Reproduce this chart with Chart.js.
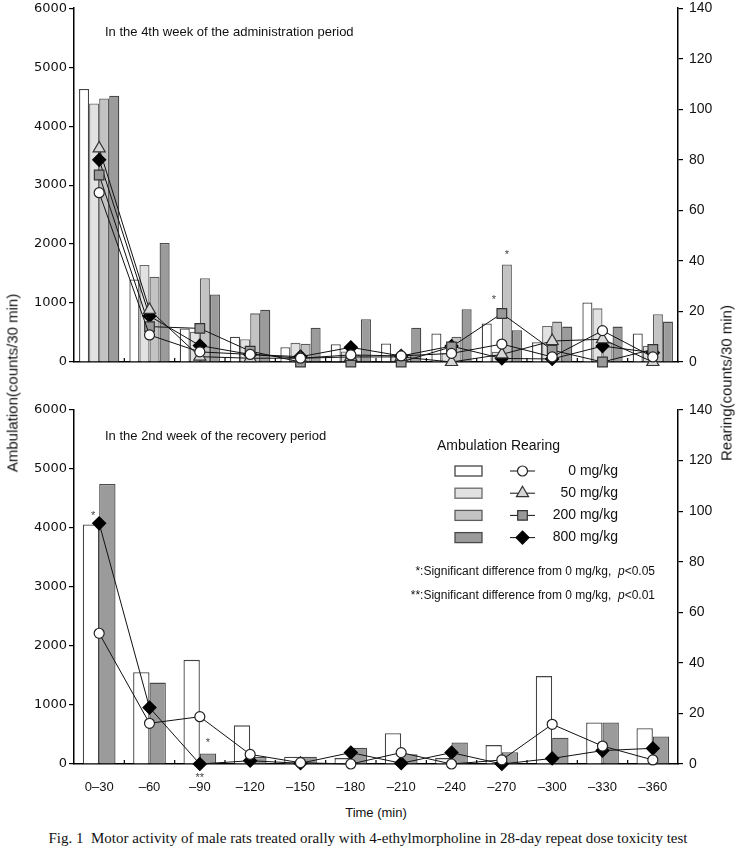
<!DOCTYPE html>
<html>
<head>
<meta charset="utf-8">
<script src="https://cdn.jsdelivr.net/npm/chart.js@4.4.1/dist/chart.umd.min.js"></script>
<style>
  body { margin: 0; background: #fff; }
  #wrap { position: relative; width: 737px; height: 848px; overflow: hidden; }
  .box { position: absolute; left: 0; width: 737px; }
  .ytitle { position: absolute; font-family: "Liberation Sans Narrow", "Liberation Sans", sans-serif; font-size: 15px; color: #111;
            white-space: nowrap; transform: translate(-50%, -50%) rotate(-90deg); }
  #xtitle { position: absolute; left: 376px; top: 812px; transform: translate(-50%, -50%); font: 13px "Liberation Sans", sans-serif; color: #111; }
  #caption { position: absolute; left: 368px; top: 838px; transform: translate(-50%, -50%); white-space: nowrap;
             font: 15px "Liberation Serif", serif; color: #111; }
</style>
</head>
<body>
<div id="wrap">
  <div class="box" style="top:0;height:380px"><canvas id="adm"></canvas></div>
  <div class="box" style="top:400px;height:400px"><canvas id="rec"></canvas></div>
  <div class="ytitle" style="left:12px;top:383px">Ambulation(counts/30 min)</div>
  <div class="ytitle" style="left:726px;top:383px">Rearing(counts/30 min)</div>
  <div id="xtitle">Time (min)</div>
  <div id="caption">Fig. 1&nbsp;&nbsp;Motor activity of male rats treated orally with 4-ethylmorpholine in 28-day repeat dose toxicity test</div>
</div>
<script>
const times = ['0–30', '–60', '–90', '–120', '–150', '–180', '–210', '–240', '–270', '–300', '–330', '–360'];
const doses = ['0 mg/kg', '50 mg/kg', '200 mg/kg', '800 mg/kg'];

// 4th week of the administration period
const ambAdm0   = [4630, 1400, 570, 430, 250, 300, 315, 485, 655, 335, 1010, 485];
const ambAdm50  = [4385, 1645, 515, 385, 325, 180, 120, 150, 175, 610, 910, 275];
const ambAdm200 = [4470, 1445, 1420, 825, 310, 120, 130, 430, 1655, 685, 330, 810];
const ambAdm800 = [4515, 2020, 1145, 885, 580, 725, 580, 895, 540, 600, 600, 685];
const rearAdm0   = [67, 10.7, 4, 3, 1.5, 2.8, 2.4, 3.4, 7.1, 2, 12.4, 2];
const rearAdm50  = [84.5, 20.6, 2.1, 1.5, 1.5, 2, 2, 0, 3, 8.3, 9, 0];
const rearAdm200 = [74, 14, 13.3, 4.3, 0, 0, 0, 6, 19.2, 4.7, 0, 5];
const rearAdm800 = [80, 18.2, 6.5, 3, 2.1, 5.8, 2.4, 6.3, 1.4, 1.2, 6.3, 3.7];

// 2nd week of the recovery period
const ambRec0   = [4060, 1555, 1765, 655, 125, 100, 520, 100, 320, 1490, 705, 605];
const ambRec800 = [4745, 1380, 180, 120, 125, 275, 165, 365, 200, 445, 705, 465];
const rearRec0   = [51.7, 16.1, 18.7, 3.8, 0.5, 0, 4.5, 0, 1.6, 15.7, 7.1, 1.6];
const rearRec800 = [95.2, 22.3, 0, 1.3, 0.3, 4.5, 0.3, 4.5, 0, 2.2, 5.3, 6.2];

const barFill   = ['#ffffff', '#e2e2e2', '#c3c3c3', '#9b9b9b'];
const barBorder = ['#444', '#6a6a6a', '#5c5c5c', '#4a4a4a'];
const marks = [
  { style: 'circle',   r: 5,   fill: '#ffffff', stroke: '#222' },
  { style: 'triangle', r: 7,   fill: '#d6d6d6', stroke: '#333' },
  { style: 'rect',     r: 6.8, fill: '#999999', stroke: '#333' },
  { style: 'rectRot',  r: 6.5, fill: '#000000', stroke: '#000' }
];

// small inward ticks between categories on the x axis
function innerTicks(chart) {
  const ctx = chart.ctx, x = chart.scales.x, b = chart.chartArea.bottom;
  ctx.save();
  ctx.strokeStyle = '#000';
  ctx.lineWidth = 1.2;
  for (let i = 0; i < times.length - 1; i++) {
    const px = (x.getPixelForValue(i) + x.getPixelForValue(i + 1)) / 2;
    ctx.beginPath(); ctx.moveTo(px, b); ctx.lineTo(px, b - 4); ctx.stroke();
  }
  ctx.restore();
}

function star(ctx, txt, x, y) {
  ctx.save();
  ctx.font = '11px "Liberation Sans"';
  ctx.fillStyle = '#444';
  ctx.textAlign = 'center';
  ctx.textBaseline = 'middle';
  ctx.fillText(txt, x, y);
  ctx.restore();
}

// y axes: fixed width, no extra label padding so the plot top sits where layout.padding says
function fitY(w) {
  return s => { s.width = w; s.paddingTop = 0; s.paddingBottom = 0; };
}

function panel(id, bars, rears, idx, catPct, showX, padTop, padBottom, draw) {
  const datasets = [];
  bars.forEach((d, k) => {
    const i = idx[k];
    datasets.push({ type: 'bar', label: doses[i], data: d, yAxisID: 'yL', order: 2,
      backgroundColor: barFill[i], borderColor: barBorder[i], borderWidth: 1.3,
      barPercentage: 1, categoryPercentage: catPct });
  });
  rears.forEach((d, k) => {
    const m = marks[idx[k]];
    datasets.push({ type: 'line', label: doses[idx[k]], data: d, yAxisID: 'yR', order: 1,
      borderColor: '#111', borderWidth: 1, tension: 0, clip: false,
      pointStyle: m.style, pointRadius: m.r, pointHoverRadius: m.r,
      pointBackgroundColor: m.fill, pointBorderColor: m.stroke, pointBorderWidth: 1.2 });
  });
  return new Chart(document.getElementById(id), {
    data: { labels: times, datasets },
    options: {
      responsive: true, maintainAspectRatio: false, animation: false,
      layout: { padding: { top: padTop, bottom: padBottom, left: 0, right: 0 } },
      plugins: { legend: { display: false }, tooltip: { enabled: false } },
      scales: {
        x: {
          grid: { display: false },
          border: { color: '#000', width: 1.5 },
          ticks: { display: showX, color: '#111', font: { family: 'Liberation Sans', size: 13 },
                   padding: 8, maxRotation: 0, autoSkip: false },
          afterFit: s => { s.height = showX ? 36 : 0; }
        },
        yL: {
          position: 'left', min: 0, max: 6000,
          ticks: { stepSize: 1000, color: '#111', font: { family: 'DejaVu Sans', size: 13 }, padding: 2,
                   callback: v => String(v) },
          grid: { drawOnChartArea: false, tickLength: 5, color: '#000', lineWidth: 1.2 },
          border: { color: '#000', width: 1.5 },
          afterFit: fitY(74)
        },
        yR: {
          position: 'right', min: 0, max: 140,
          ticks: { stepSize: 20, color: '#111', font: { family: 'Liberation Sans', size: 14 }, padding: 6,
                   callback: v => String(v) },
          grid: { drawOnChartArea: false, tickLength: 5, color: '#000', lineWidth: 1.2 },
          border: { color: '#000', width: 1.5 },
          afterFit: fitY(59)
        }
      }
    },
    plugins: [{ id: 'extra', afterDraw: chart => { innerTicks(chart); draw(chart); } }]
  });
}

panel('adm', [ambAdm0, ambAdm50, ambAdm200, ambAdm800], [rearAdm0, rearAdm50, rearAdm200, rearAdm800],
  [0, 1, 2, 3], 0.8, false, 8, 18, chart => {
    const ctx = chart.ctx;
    ctx.save();
    ctx.font = '13px "Liberation Sans"';
    ctx.fillStyle = '#111';
    ctx.textBaseline = 'middle';
    ctx.fillText('In the 4th week of the administration period', 105, 32);
    ctx.restore();
    const bar = chart.getDatasetMeta(2).data[8];
    star(ctx, '*', bar.x, bar.y - 9);
    const sq = chart.getDatasetMeta(6).data[8];
    star(ctx, '*', sq.x - 8, sq.y - 14);
  });

panel('rec', [ambRec0, ambRec800], [rearRec0, rearRec800],
  [0, 3], 0.65, true, 10, 0, chart => {
    const ctx = chart.ctx;
    ctx.save();
    ctx.fillStyle = '#111';
    ctx.textBaseline = 'middle';
    ctx.font = '13px "Liberation Sans"';
    ctx.fillText('In the 2nd week of the recovery period', 105, 36);
    ctx.font = '14px "Liberation Sans"';
    ctx.fillText('Ambulation Rearing', 437, 46);
    doses.forEach((d, i) => {
      const y = 71 + i * 22.2;
      ctx.fillStyle = barFill[i]; ctx.strokeStyle = barBorder[i]; ctx.lineWidth = 1.3;
      ctx.fillRect(455, y - 5, 27, 10); ctx.strokeRect(455, y - 5, 27, 10);
      ctx.strokeStyle = '#111'; ctx.lineWidth = 1;
      ctx.beginPath(); ctx.moveTo(510, y); ctx.lineTo(535, y); ctx.stroke();
      const m = marks[i];
      ctx.fillStyle = m.fill; ctx.strokeStyle = m.stroke; ctx.lineWidth = 1.2;
      Chart.helpers.drawPoint(ctx, { pointStyle: m.style, radius: m.r, rotation: 0, borderWidth: 1.2 }, 522.5, y);
      ctx.fillStyle = '#111';
      ctx.textAlign = 'right';
      ctx.font = '14px "Liberation Sans"';
      ctx.fillText(d, 618, y);
      ctx.textAlign = 'left';
    });
    // significance notes
    [['*', '0.05', 172], ['**', '0.01', 196]].forEach(([s, p, y]) => {
      const tail = '<' + p;
      ctx.font = '12px "Liberation Sans"';
      const wTail = ctx.measureText(tail).width;
      ctx.font = 'italic 12px "Liberation Sans"';
      const wP = ctx.measureText('p').width;
      ctx.font = '12px "Liberation Sans"';
      const head = s + ':Significant difference from 0 mg/kg,  ';
      const wHead = ctx.measureText(head).width;
      let x = 655 - wTail - wP - wHead;
      ctx.fillText(head, x, y);
      ctx.font = 'italic 12px "Liberation Sans"';
      ctx.fillText('p', x + wHead, y);
      ctx.font = '12px "Liberation Sans"';
      ctx.fillText(tail, x + wHead + wP, y);
    });
    ctx.restore();
    const dm = chart.getDatasetMeta(3).data;
    star(ctx, '*', dm[0].x - 6, dm[0].y - 7);
    star(ctx, '**', dm[2].x, dm[2].y + 14);
    const b = chart.getDatasetMeta(1).data[2];
    star(ctx, '*', b.x, b.y - 10);
  });
</script>
</body>
</html>
